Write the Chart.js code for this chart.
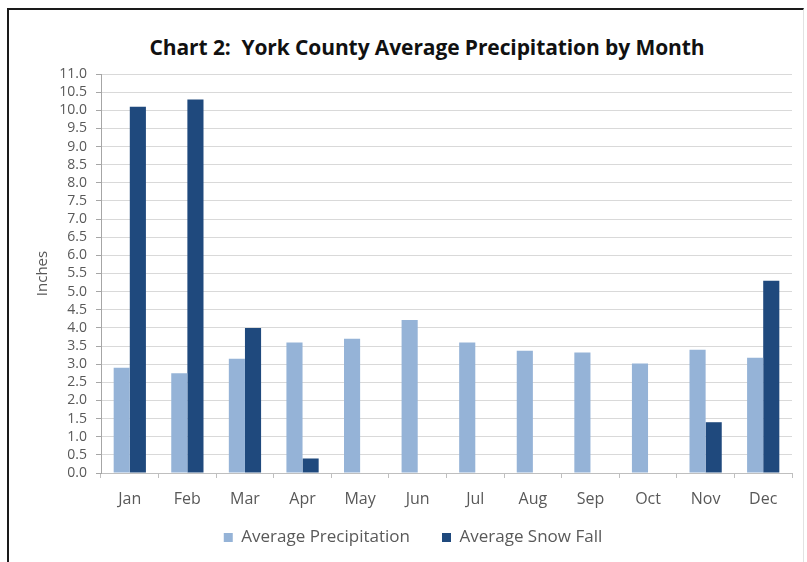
<!DOCTYPE html>
<html lang="en">
<head>
<meta charset="UTF-8">
<title>York County Average Precipitation by Month</title>
<script src="https://cdn.jsdelivr.net/npm/chart.js@4.4.1/dist/chart.umd.min.js"></script>
<style>
  html, body { margin: 0; padding: 0; background: #fff; }
  body { width: 807px; height: 562px; position: relative; overflow: hidden; }
  .frame {
    position: absolute; left: 7px; top: 8px; width: 794px; height: 560px;
    border-top: 2px solid #1a1a1a; border-left: 2px solid #1a1a1a; border-right: 1px solid #e2e2e2;
  }
  .title {
    position: absolute; left: 0; width: 854px; top: 33px; text-align: center;
    font: bold 21px "Open Sans", sans-serif; color: #111; letter-spacing: -0.1px;
  }
  #precipChart { position: absolute; left: 0; top: 0; }
</style>
</head>
<body>
<div class="frame"></div>
<div class="title">Chart 2:&nbsp; York County Average Precipitation by Month</div>
<canvas id="precipChart" width="807" height="562"></canvas>

<script>
  // data (inches)
  const months = ['Jan', 'Feb', 'Mar', 'Apr', 'May', 'Jun', 'Jul', 'Aug', 'Sep', 'Oct', 'Nov', 'Dec'];
  const avgPrecipitation = [2.9, 2.75, 3.15, 3.6, 3.7, 4.22, 3.6, 3.37, 3.32, 3.02, 3.4, 3.18];
  const avgSnowFall = [10.1, 10.3, 4.0, 0.4, null, null, null, null, null, null, 1.4, 5.3];
  const yMin = 0, yMax = 11, yStep = 0.5;

  const grey = '#595959';

  // legend padding is also the gap between the two items, so keep it wide
  // and just nudge the legend box up a little after layout
  const legendNudge = {
    id: 'legendNudge',
    afterLayout(chart) {
      chart.legend.top -= 13;
      chart.legend.bottom -= 13;
    }
  };

  new Chart(document.getElementById('precipChart').getContext('2d'), {
    type: 'bar',
    data: {
      labels: months,
      datasets: [{
        label: 'Average Precipitation',
        data: avgPrecipitation,
        backgroundColor: '#95B3D7',
        borderWidth: 0
      }, {
        label: 'Average Snow Fall',
        data: avgSnowFall,
        backgroundColor: '#1F497D',
        borderWidth: 0
      }]
    },
    plugins: [legendNudge],
    options: {
      responsive: false,
      animation: false,
      layout: { padding: { left: 34, right: 15, top: 74, bottom: -7 } },
      datasets: { bar: { barPercentage: 1.0, categoryPercentage: 0.56 } },
      plugins: {
        title: { display: false },
        tooltip: { enabled: false },
        legend: {
          position: 'bottom',
          labels: {
            boxWidth: 9, boxHeight: 9, padding: 32,
            color: grey,
            font: { family: '"Open Sans", sans-serif', size: 17 }
          }
        }
      },
      scales: {
        x: {
          offset: true,
          afterFit: function (scale) { scale.height = 37; },
          grid: { offset: true, drawOnChartArea: false, drawTicks: true, tickLength: 5, color: '#bfbfbf' },
          border: { color: '#bfbfbf' },
          ticks: { color: grey, padding: 12, font: { family: '"Open Sans", sans-serif', size: 16 } }
        },
        y: {
          min: yMin, max: yMax,
          afterFit: function (scale) { scale.width = 67; },
          title: {
            display: true, text: 'Inches', color: grey, padding: { top: 0, bottom: 0 },
            font: { family: '"Open Sans", sans-serif', size: 15 }
          },
          grid: { color: '#d9d9d9', tickLength: 5, tickColor: '#a6a6a6' },
          border: { color: '#a6a6a6' },
          ticks: {
            stepSize: yStep, autoSkip: false, color: grey, padding: 9,
            font: { family: '"Open Sans", sans-serif', size: 14 },
            callback: function (v) { return Number(v).toFixed(1); }
          }
        }
      }
    }
  });
</script>
</body>
</html>
